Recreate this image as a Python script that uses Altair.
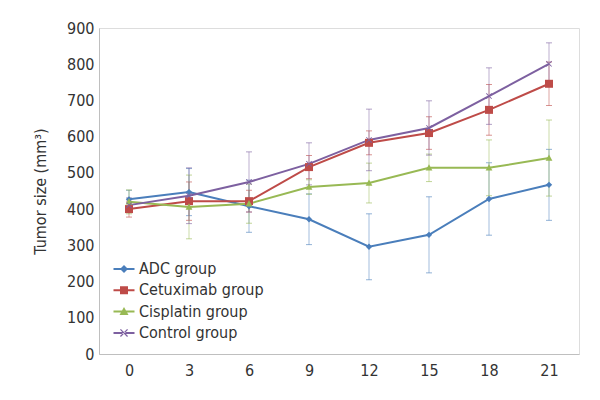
import altair as alt
import pandas as pd

days = [0, 3, 6, 9, 12, 15, 18, 21]
groups = ["ADC group", "Cetuximab group", "Cisplatin group", "Control group"]
colors = ["#4a7ebb", "#be4b48", "#98b954", "#7d60a0"]

adc_mean = [427, 447, 408, 372, 296, 329, 428, 467]
adc_err = [25, 65, 72, 70, 91, 105, 100, 98]
cet_mean = [400, 422, 422, 516, 583, 610, 674, 746]
cet_err = [22, 53, 30, 32, 33, 45, 70, 60]
cis_mean = [420, 406, 415, 461, 472, 514, 514, 541]
cis_err = [33, 88, 54, 20, 55, 38, 77, 105]
ctl_mean = [411, 437, 475, 525, 591, 624, 712, 801]
ctl_err = [20, 77, 83, 58, 85, 75, 78, 58]

means = [adc_mean, cet_mean, cis_mean, ctl_mean]
errs = [adc_err, cet_err, cis_err, ctl_err]

rows = []
for g, m, e in zip(groups, means, errs):
    for d, v, s in zip(days, m, e):
        rows.append({"group": g, "day": d, "size": v, "lo": v - s, "hi": v + s})
df = pd.DataFrame(rows)

FONT = "Liberation Sans Narrow, DejaVu Sans Condensed, Liberation Sans, sans-serif"

marker_paths = [
    "M0,-1L1,0L0,1L-1,0Z",
    "M-1,-1H1V1H-1Z",
    "M0,-1.1L1.05,0.85H-1.05Z",
    "M-1,-0.8L-0.8,-1L1,0.8L0.8,1Z M1,-0.8L0.8,-1L-1,0.8L-0.8,1Z",
]
bar = "M-2.1,-0.2H2.1V0.2H-2.1Z "
legend_paths = [
    bar + "M0,-0.8L0.8,0L0,0.8L-0.8,0Z",
    bar + "M-0.8,-0.8H0.8V0.8H-0.8Z",
    bar + "M0,-0.9L0.9,0.7H-0.9Z",
    bar + "M-0.8,-0.62L-0.62,-0.8L0.8,0.62L0.62,0.8Z M0.8,-0.62L0.62,-0.8L-0.8,0.62L-0.62,0.8Z",
]

x_enc = alt.X(
    "day:O",
    scale=alt.Scale(type="point", padding=0.5),
    axis=alt.Axis(
        title=None, labelAngle=0, ticks=False, labelFontSize=16, labelFont=FONT,
        labelColor="#333333", domainColor="#bfbfbf", labelPadding=8, grid=False,
    ),
)
y_scale = alt.Scale(domain=[0, 900], nice=False)
y_axis = alt.Axis(
    title="Tumor size (mm³)", values=list(range(0, 901, 100)), ticks=False,
    labelOverlap=False, labelFontSize=16, labelFont=FONT, labelColor="#333333",
    domainColor="#bfbfbf", labelPadding=5, grid=False, titleFont=FONT,
    titleFontSize=16, titleFontWeight="normal", titleColor="#333333",
    titlePadding=18,
)


def yq(field):
    return alt.Y(field, scale=y_scale, axis=y_axis)


base = alt.Chart(df)
layers = []

# error bars
for g, c in zip(groups, colors):
    sub = base.transform_filter(alt.datum.group == g)
    layers.append(
        sub.mark_rule(strokeWidth=1, opacity=0.5, color=c).encode(
            x=x_enc, y=yq("lo:Q"), y2="hi:Q"
        )
    )
    layers.append(
        sub.transform_fold(["lo", "hi"], as_=["k", "v"]).mark_tick(
            orient="horizontal", size=6, thickness=1, opacity=0.6, color=c
        ).encode(x=x_enc, y=yq("v:Q"))
    )

# lines
for g, c in zip(groups, colors):
    sub = base.transform_filter(alt.datum.group == g)
    layers.append(
        sub.mark_line(strokeWidth=2, color=c).encode(x=x_enc, y=yq("size:Q"))
    )

# markers
sizes = [40, 64, 42, 36]
for g, c, p, s in zip(groups, colors, marker_paths, sizes):
    sub = base.transform_filter(alt.datum.group == g)
    layers.append(
        sub.mark_point(filled=True, opacity=1, size=s, shape=p, color=c).encode(
            x=x_enc, y=yq("size:Q")
        )
    )

leg = alt.Legend(
    title=None, orient="none", legendX=17, legendY=233, padding=0,
    symbolSize=100, labelOffset=7, labelFontSize=16, labelFont=FONT,
    labelColor="#333333", rowPadding=5.3, symbolStrokeWidth=0,
)

legend_layer = base.transform_filter("false").mark_point(filled=True, opacity=1).encode(
    x=x_enc,
    y=yq("size:Q"),
    color=alt.Color("group:N", scale=alt.Scale(domain=groups, range=colors), legend=leg),
    shape=alt.Shape("group:N", scale=alt.Scale(domain=groups, range=legend_paths), legend=leg),
)
layers.append(legend_layer)

chart = alt.layer(*layers).properties(
    width=480,
    height=326,
    autosize=alt.AutoSizeParams(type="none"),
    padding={"left": 91, "top": 20, "right": 13, "bottom": 36},
).configure_view(stroke=None).configure(background="white")

chart.save("out.html", embed_options={"renderer": "svg", "actions": False})
